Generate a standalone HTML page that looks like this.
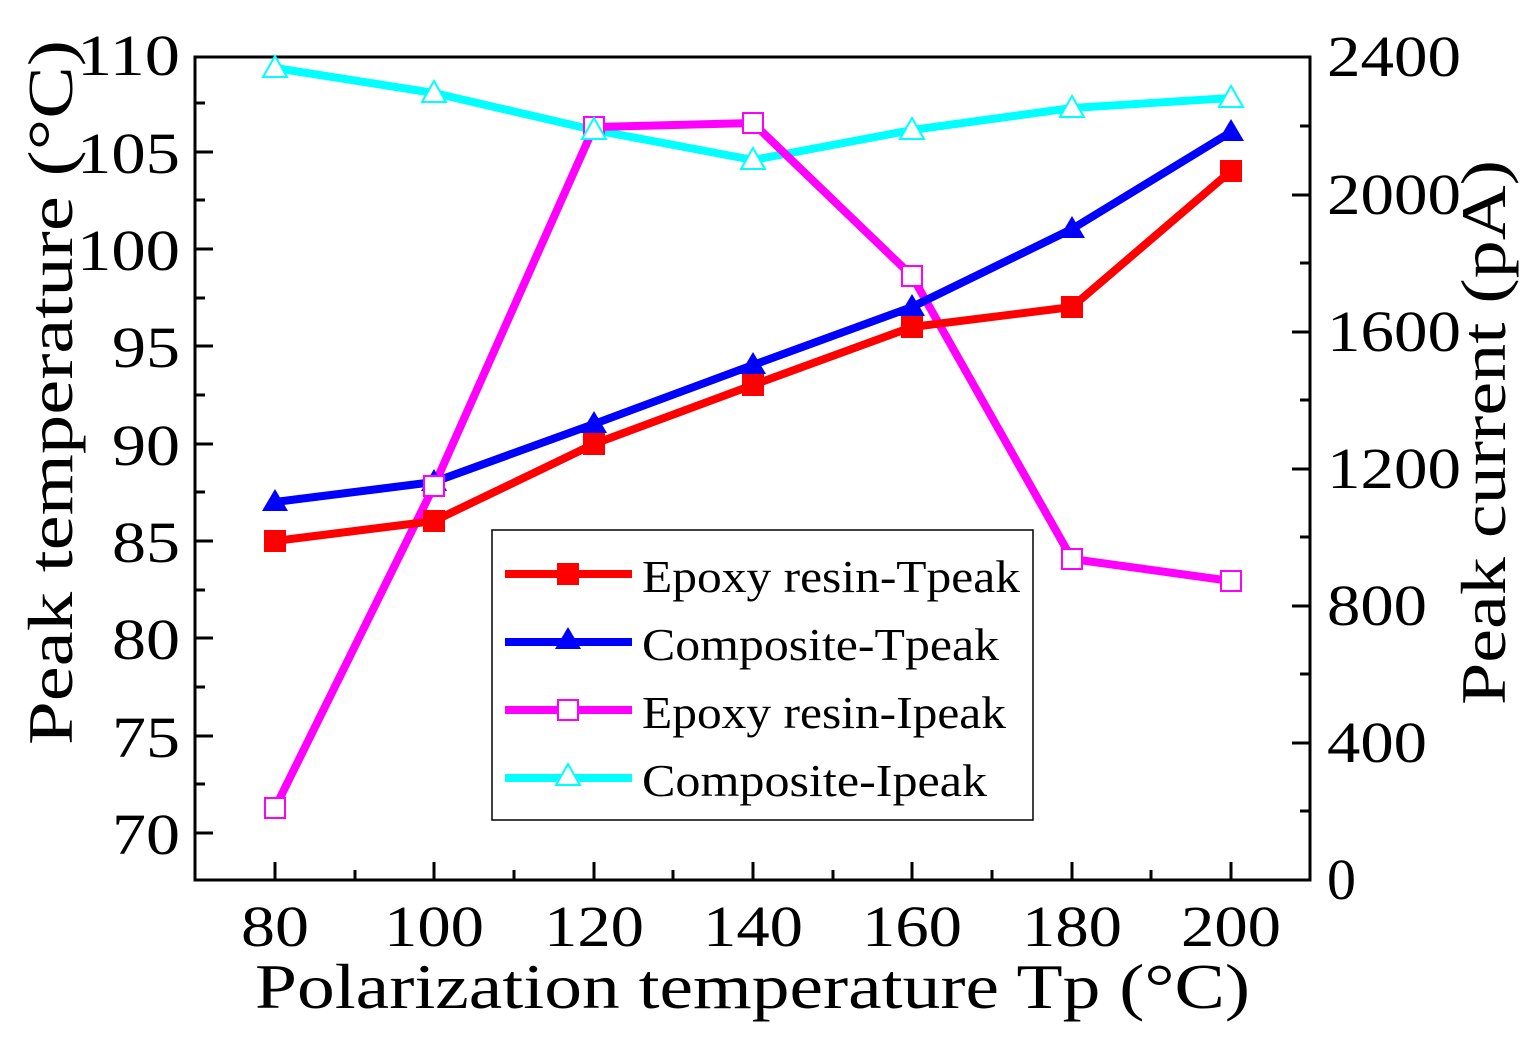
<!DOCTYPE html>
<html><head><meta charset="utf-8"><style>
html,body{margin:0;padding:0;background:#fff}
svg{display:block}
text{font-family:"Liberation Serif",serif;fill:#000}
</style></head><body>
<svg width="1535" height="1040" viewBox="0 0 1535 1040" xmlns="http://www.w3.org/2000/svg">
<rect x="195" y="57" width="1115" height="823" fill="none" stroke="#000" stroke-width="3"/>
<g stroke="#000" stroke-width="3">
<line x1="275" y1="880" x2="275" y2="862"/><line x1="434" y1="880" x2="434" y2="862"/><line x1="594" y1="880" x2="594" y2="862"/><line x1="753" y1="880" x2="753" y2="862"/><line x1="912" y1="880" x2="912" y2="862"/><line x1="1072" y1="880" x2="1072" y2="862"/><line x1="1231" y1="880" x2="1231" y2="862"/>
<line x1="355" y1="880" x2="355" y2="870"/><line x1="514" y1="880" x2="514" y2="870"/><line x1="673" y1="880" x2="673" y2="870"/><line x1="833" y1="880" x2="833" y2="870"/><line x1="992" y1="880" x2="992" y2="870"/><line x1="1151" y1="880" x2="1151" y2="870"/>
<line x1="195" y1="833" x2="213" y2="833"/><line x1="195" y1="736" x2="213" y2="736"/><line x1="195" y1="638" x2="213" y2="638"/><line x1="195" y1="541" x2="213" y2="541"/><line x1="195" y1="444" x2="213" y2="444"/><line x1="195" y1="346" x2="213" y2="346"/><line x1="195" y1="249" x2="213" y2="249"/><line x1="195" y1="152" x2="213" y2="152"/>
<line x1="195" y1="784" x2="205" y2="784"/><line x1="195" y1="687" x2="205" y2="687"/><line x1="195" y1="590" x2="205" y2="590"/><line x1="195" y1="492" x2="205" y2="492"/><line x1="195" y1="395" x2="205" y2="395"/><line x1="195" y1="298" x2="205" y2="298"/><line x1="195" y1="200" x2="205" y2="200"/><line x1="195" y1="103" x2="205" y2="103"/>
<line x1="1310" y1="743" x2="1292" y2="743"/><line x1="1310" y1="606" x2="1292" y2="606"/><line x1="1310" y1="469" x2="1292" y2="469"/><line x1="1310" y1="332" x2="1292" y2="332"/><line x1="1310" y1="195" x2="1292" y2="195"/>
<line x1="1310" y1="811" x2="1300" y2="811"/><line x1="1310" y1="674" x2="1300" y2="674"/><line x1="1310" y1="537" x2="1300" y2="537"/><line x1="1310" y1="400" x2="1300" y2="400"/><line x1="1310" y1="263" x2="1300" y2="263"/><line x1="1310" y1="126" x2="1300" y2="126"/>
</g>
<g font-size="58" text-anchor="middle">
<text x="275" y="946" textLength="68" lengthAdjust="spacingAndGlyphs">80</text>
<text x="434" y="946" textLength="100" lengthAdjust="spacingAndGlyphs">100</text>
<text x="594" y="946" textLength="100" lengthAdjust="spacingAndGlyphs">120</text>
<text x="753" y="946" textLength="100" lengthAdjust="spacingAndGlyphs">140</text>
<text x="912" y="946" textLength="100" lengthAdjust="spacingAndGlyphs">160</text>
<text x="1072" y="946" textLength="100" lengthAdjust="spacingAndGlyphs">180</text>
<text x="1231" y="946" textLength="100" lengthAdjust="spacingAndGlyphs">200</text>
</g>
<g font-size="58" text-anchor="end">
<text x="180" y="854" textLength="68" lengthAdjust="spacingAndGlyphs">70</text>
<text x="180" y="757" textLength="68" lengthAdjust="spacingAndGlyphs">75</text>
<text x="180" y="659" textLength="68" lengthAdjust="spacingAndGlyphs">80</text>
<text x="180" y="562" textLength="68" lengthAdjust="spacingAndGlyphs">85</text>
<text x="180" y="465" textLength="68" lengthAdjust="spacingAndGlyphs">90</text>
<text x="180" y="367" textLength="68" lengthAdjust="spacingAndGlyphs">95</text>
<text x="180" y="270" textLength="103" lengthAdjust="spacingAndGlyphs">100</text>
<text x="180" y="173" textLength="103" lengthAdjust="spacingAndGlyphs">105</text>
<text x="180" y="75" textLength="103" lengthAdjust="spacingAndGlyphs">110</text>
</g>
<g font-size="58" text-anchor="start">
<text x="1327" y="899">0</text>
<text x="1327" y="762" textLength="100" lengthAdjust="spacingAndGlyphs">400</text>
<text x="1327" y="625" textLength="100" lengthAdjust="spacingAndGlyphs">800</text>
<text x="1327" y="488" textLength="134" lengthAdjust="spacingAndGlyphs">1200</text>
<text x="1327" y="351" textLength="134" lengthAdjust="spacingAndGlyphs">1600</text>
<text x="1327" y="214" textLength="134" lengthAdjust="spacingAndGlyphs">2000</text>
<text x="1327" y="76" textLength="134" lengthAdjust="spacingAndGlyphs">2400</text>
</g>
<text x="255" y="1008" font-size="64" textLength="995" lengthAdjust="spacingAndGlyphs">Polarization temperature Tp (°C)</text>
<text transform="translate(72,745) rotate(-90)" font-size="64" textLength="705" lengthAdjust="spacingAndGlyphs">Peak temperature (°C)</text>
<text transform="translate(1505,705) rotate(-90)" font-size="64" textLength="545" lengthAdjust="spacingAndGlyphs">Peak current (pA)</text>

<g fill="none" stroke-width="8" stroke-linejoin="round">
<polyline stroke="#00ffff" points="275,68 434,93 594,130 753,160 912,130 1072,108 1231,98"/>
<polyline stroke="#ff00ff" points="275,808 434,486 594,127 753,123 912,276 1072,559 1231,581"/>
<polyline stroke="#0000ff" points="275,502 434,482 594,424 753,365 912,307 1072,229 1231,132"/>
<polyline stroke="#ff0000" points="275,541 434,521 594,444 753,385 912,327 1072,307 1231,171"/>
</g>
<g fill="#ff0000">
<rect x="264" y="530" width="22" height="22"/><rect x="423" y="510" width="22" height="22"/><rect x="583" y="433" width="22" height="22"/><rect x="742" y="374" width="22" height="22"/><rect x="901" y="316" width="22" height="22"/><rect x="1061" y="296" width="22" height="22"/><rect x="1220" y="160" width="22" height="22"/>
</g>
<g fill="#0000ff">
<path d="M275,489 l13,22 h-26z"/><path d="M434,469 l13,22 h-26z"/><path d="M594,411 l13,22 h-26z"/><path d="M753,352 l13,22 h-26z"/><path d="M912,294 l13,22 h-26z"/><path d="M1072,216 l13,22 h-26z"/><path d="M1231,119 l13,22 h-26z"/>
</g>
<g fill="#fff" stroke="#ff00ff" stroke-width="2">
<rect x="265" y="798" width="20" height="20"/><rect x="424" y="476" width="20" height="20"/><rect x="584" y="117" width="20" height="20"/><rect x="743" y="113" width="20" height="20"/><rect x="902" y="266" width="20" height="20"/><rect x="1062" y="549" width="20" height="20"/><rect x="1221" y="571" width="20" height="20"/>
</g>
<g fill="#fff" stroke="#00ffff" stroke-width="2">
<path d="M275,56 l12,21 h-24z"/><path d="M434,81 l12,21 h-24z"/><path d="M594,118 l12,21 h-24z"/><path d="M753,148 l12,21 h-24z"/><path d="M912,118 l12,21 h-24z"/><path d="M1072,96 l12,21 h-24z"/><path d="M1231,86 l12,21 h-24z"/>
</g>

<rect x="492" y="530" width="541" height="290" fill="#fff" stroke="#000" stroke-width="1.5"/>
<g stroke-width="8">
<line x1="505" y1="574" x2="632" y2="574" stroke="#ff0000"/>
<line x1="505" y1="642" x2="632" y2="642" stroke="#0000ff"/>
<line x1="505" y1="710" x2="632" y2="710" stroke="#ff00ff"/>
<line x1="505" y1="778" x2="632" y2="778" stroke="#00ffff"/>
</g>
<rect x="557" y="563" width="22" height="22" fill="#ff0000"/>
<path d="M568,627 l13,22 h-26z" fill="#0000ff"/>
<rect x="558" y="700" width="20" height="20" fill="#fff" stroke="#ff00ff" stroke-width="2"/>
<path d="M568,764 l12,21 h-24z" fill="#fff" stroke="#00ffff" stroke-width="2"/>
<g font-size="46">
<text x="642" y="592" textLength="378" lengthAdjust="spacingAndGlyphs">Epoxy resin-Tpeak</text>
<text x="642" y="660" textLength="357" lengthAdjust="spacingAndGlyphs">Composite-Tpeak</text>
<text x="642" y="728" textLength="364" lengthAdjust="spacingAndGlyphs">Epoxy resin-Ipeak</text>
<text x="642" y="796" textLength="345" lengthAdjust="spacingAndGlyphs">Composite-Ipeak</text>
</g>
</svg>
</body></html>
